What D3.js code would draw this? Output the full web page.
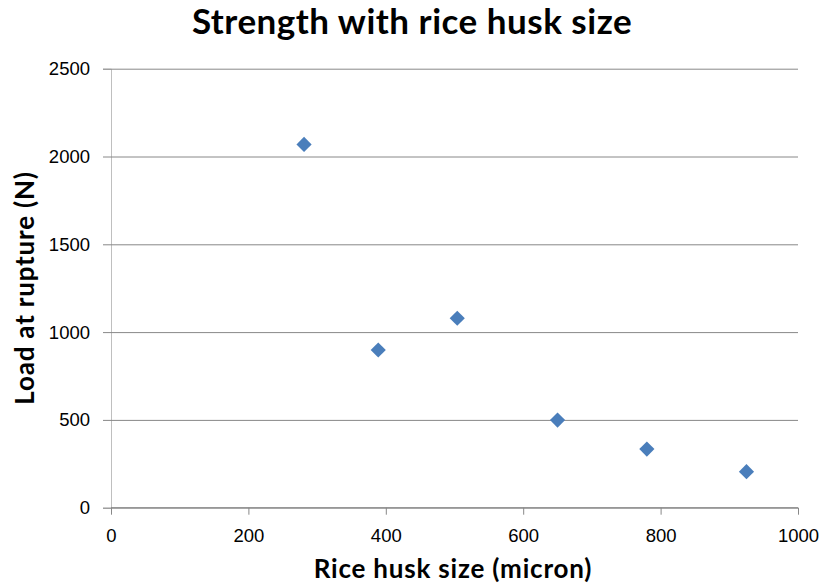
<!DOCTYPE html>
<html><head><meta charset="utf-8">
<script src="https://cdn.jsdelivr.net/npm/d3@7"></script>
<style>body{margin:0;background:#fff;} svg{display:block;font-family:Lato, "Open Sans", sans-serif;}</style>
</head><body>
<svg id="c" width="824" height="588"></svg>
<script>
const huskSize = [281, 389, 504, 650, 780, 925];
const loadRupture = [2069, 898, 1079, 499, 334, 205];
const xTicks = [0, 200, 400, 600, 800, 1000];
const yTicks = [0, 500, 1000, 1500, 2000, 2500];
const title = "Strength with rice husk size";
const xTitle = "Rice husk size (micron)";
const yTitle = "Load at rupture (N)";

const svg = d3.select("#c");
const L = 111, R = 798, T = 68.7, B = 507.7;
const x = d3.scaleLinear().domain([0, 1000]).range([L, R]);
const y = d3.scaleLinear().domain([0, 2500]).range([B, T]);

const ya = svg.append("g").attr("transform", `translate(${L},0)`)
  .call(d3.axisLeft(y).tickValues(yTicks).tickSize(8).tickPadding(13).tickFormat(d3.format("d")));
ya.select(".domain").attr("stroke", "#bfbfbf");
ya.selectAll(".tick line").attr("stroke", "#888").attr("x2", R - L).attr("x1", -8);
ya.selectAll(".tick text").attr("font-size", 18.5).attr("fill", "#000").attr("x", -21);

const xa = svg.append("g").attr("transform", `translate(0,${B})`)
  .call(d3.axisBottom(x).tickValues(xTicks).tickSize(7).tickPadding(14).tickFormat(d3.format("d")));
xa.select(".domain").attr("stroke", "#888").attr("d", `M${L},0H${R}`);
xa.selectAll(".tick line").attr("stroke", "#888");
xa.selectAll(".tick text").attr("font-size", 18.5).attr("fill", "#000");

svg.append("g").selectAll("path").data(huskSize).join("path")
  .attr("d", d3.symbol().type(d3.symbolSquare).size(115))
  .attr("transform", (d, i) => `translate(${x(d)},${y(loadRupture[i])}) rotate(45)`)
  .attr("fill", "#4a7ebb");

svg.append("text").attr("x", 412).attr("y", 34).attr("text-anchor", "middle")
  .attr("font-size", 35).attr("letter-spacing", 0.5).attr("font-weight", "bold").text(title);
svg.append("text").attr("x", 453).attr("y", 578).attr("text-anchor", "middle")
  .attr("font-size", 26).attr("letter-spacing", 0.8).attr("font-weight", "bold").text(xTitle);
svg.append("text").attr("transform", "translate(34,288) rotate(-90)").attr("text-anchor", "middle")
  .attr("font-size", 26).attr("letter-spacing", 0.8).attr("font-weight", "bold").text(yTitle);
</script>
</body></html>
